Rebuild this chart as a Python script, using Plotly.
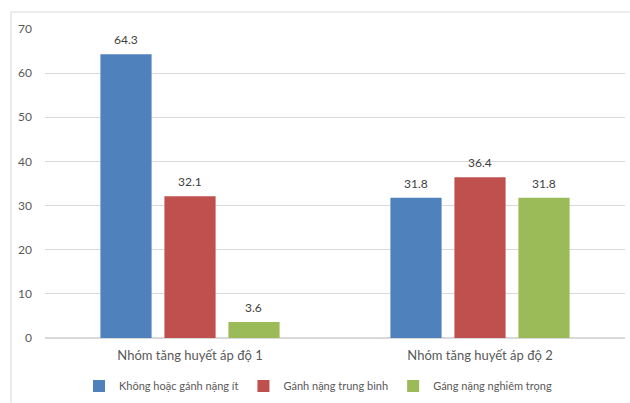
import plotly.graph_objects as go

categories = ["Nhóm tăng huyết áp độ 1", "Nhóm tăng huyết áp độ 2"]
series_names = ["Không hoặc gánh nặng ít", "Gánh nặng trung bình", "Gáng nặng nghiêm trọng"]
values_low = [64.3, 31.8]
values_mid = [32.1, 36.4]
values_high = [3.6, 31.8]
colors = ["#4f81bd", "#c0504d", "#9bbb59"]
y_ticks = [0, 10, 20, 30, 40, 50, 60, 70]

FONT = "Lato, 'Open Sans', sans-serif"

L, R, T, B = 45, 625, 29, 338
W, H = R - L, B - T
BARGAP = 0.338
slot_px = W / len(categories) * (1 - BARGAP) / len(series_names)

fig = go.Figure()
all_series = [values_low, values_mid, values_high]
for i, (name, vals, col) in enumerate(zip(series_names, all_series, colors)):
    fig.add_trace(go.Bar(
        x=categories, y=vals, name=name,
        marker=dict(color=col, line=dict(width=0)),
    ))
    for cat, v in zip(categories, vals):
        fig.add_annotation(x=cat, y=v, text=f"{v:.1f}", showarrow=False,
                           xshift=(i - 1) * slot_px, yshift=5, yanchor="bottom",
                           font=dict(size=12, color="#404040", family=FONT))

# light outer chart border
fig.add_shape(type="rect", xref="paper", yref="paper",
              x0=(11 - L) / W, x1=(640 - L) / W,
              y0=(B - 410) / H, y1=(B - 12) / H,
              line=dict(color="#d9d9d9", width=1), fillcolor="rgba(0,0,0,0)", layer="below")

fig.update_layout(
    width=630, height=403,
    margin=dict(l=L, r=630 - R, t=T, b=403 - B, autoexpand=False),
    paper_bgcolor="white", plot_bgcolor="white",
    barmode="group", bargap=BARGAP, bargroupgap=0.2,
    font=dict(family=FONT, color="#595959", size=12),
    showlegend=True,
    legend=dict(orientation="h", x=0.5 - 17 / W, xanchor="center", y=(B - 386) / H, yanchor="middle",
                font=dict(size=11, color="#595959"), itemwidth=30, traceorder="normal"),
    xaxis=dict(showgrid=False, showline=False, ticks="", tickfont=dict(size=13, color="#595959"),
               ticklabelstandoff=8, automargin=False),
    yaxis=dict(range=[0, 70], tickvals=y_ticks, showgrid=True, gridcolor="#d9d9d9",
               zeroline=True, zerolinecolor="#d9d9d9", showline=False, ticks="",
               tickfont=dict(size=12, color="#595959"), ticklabelstandoff=12, automargin=False),
)

fig.write_html("out.html")
